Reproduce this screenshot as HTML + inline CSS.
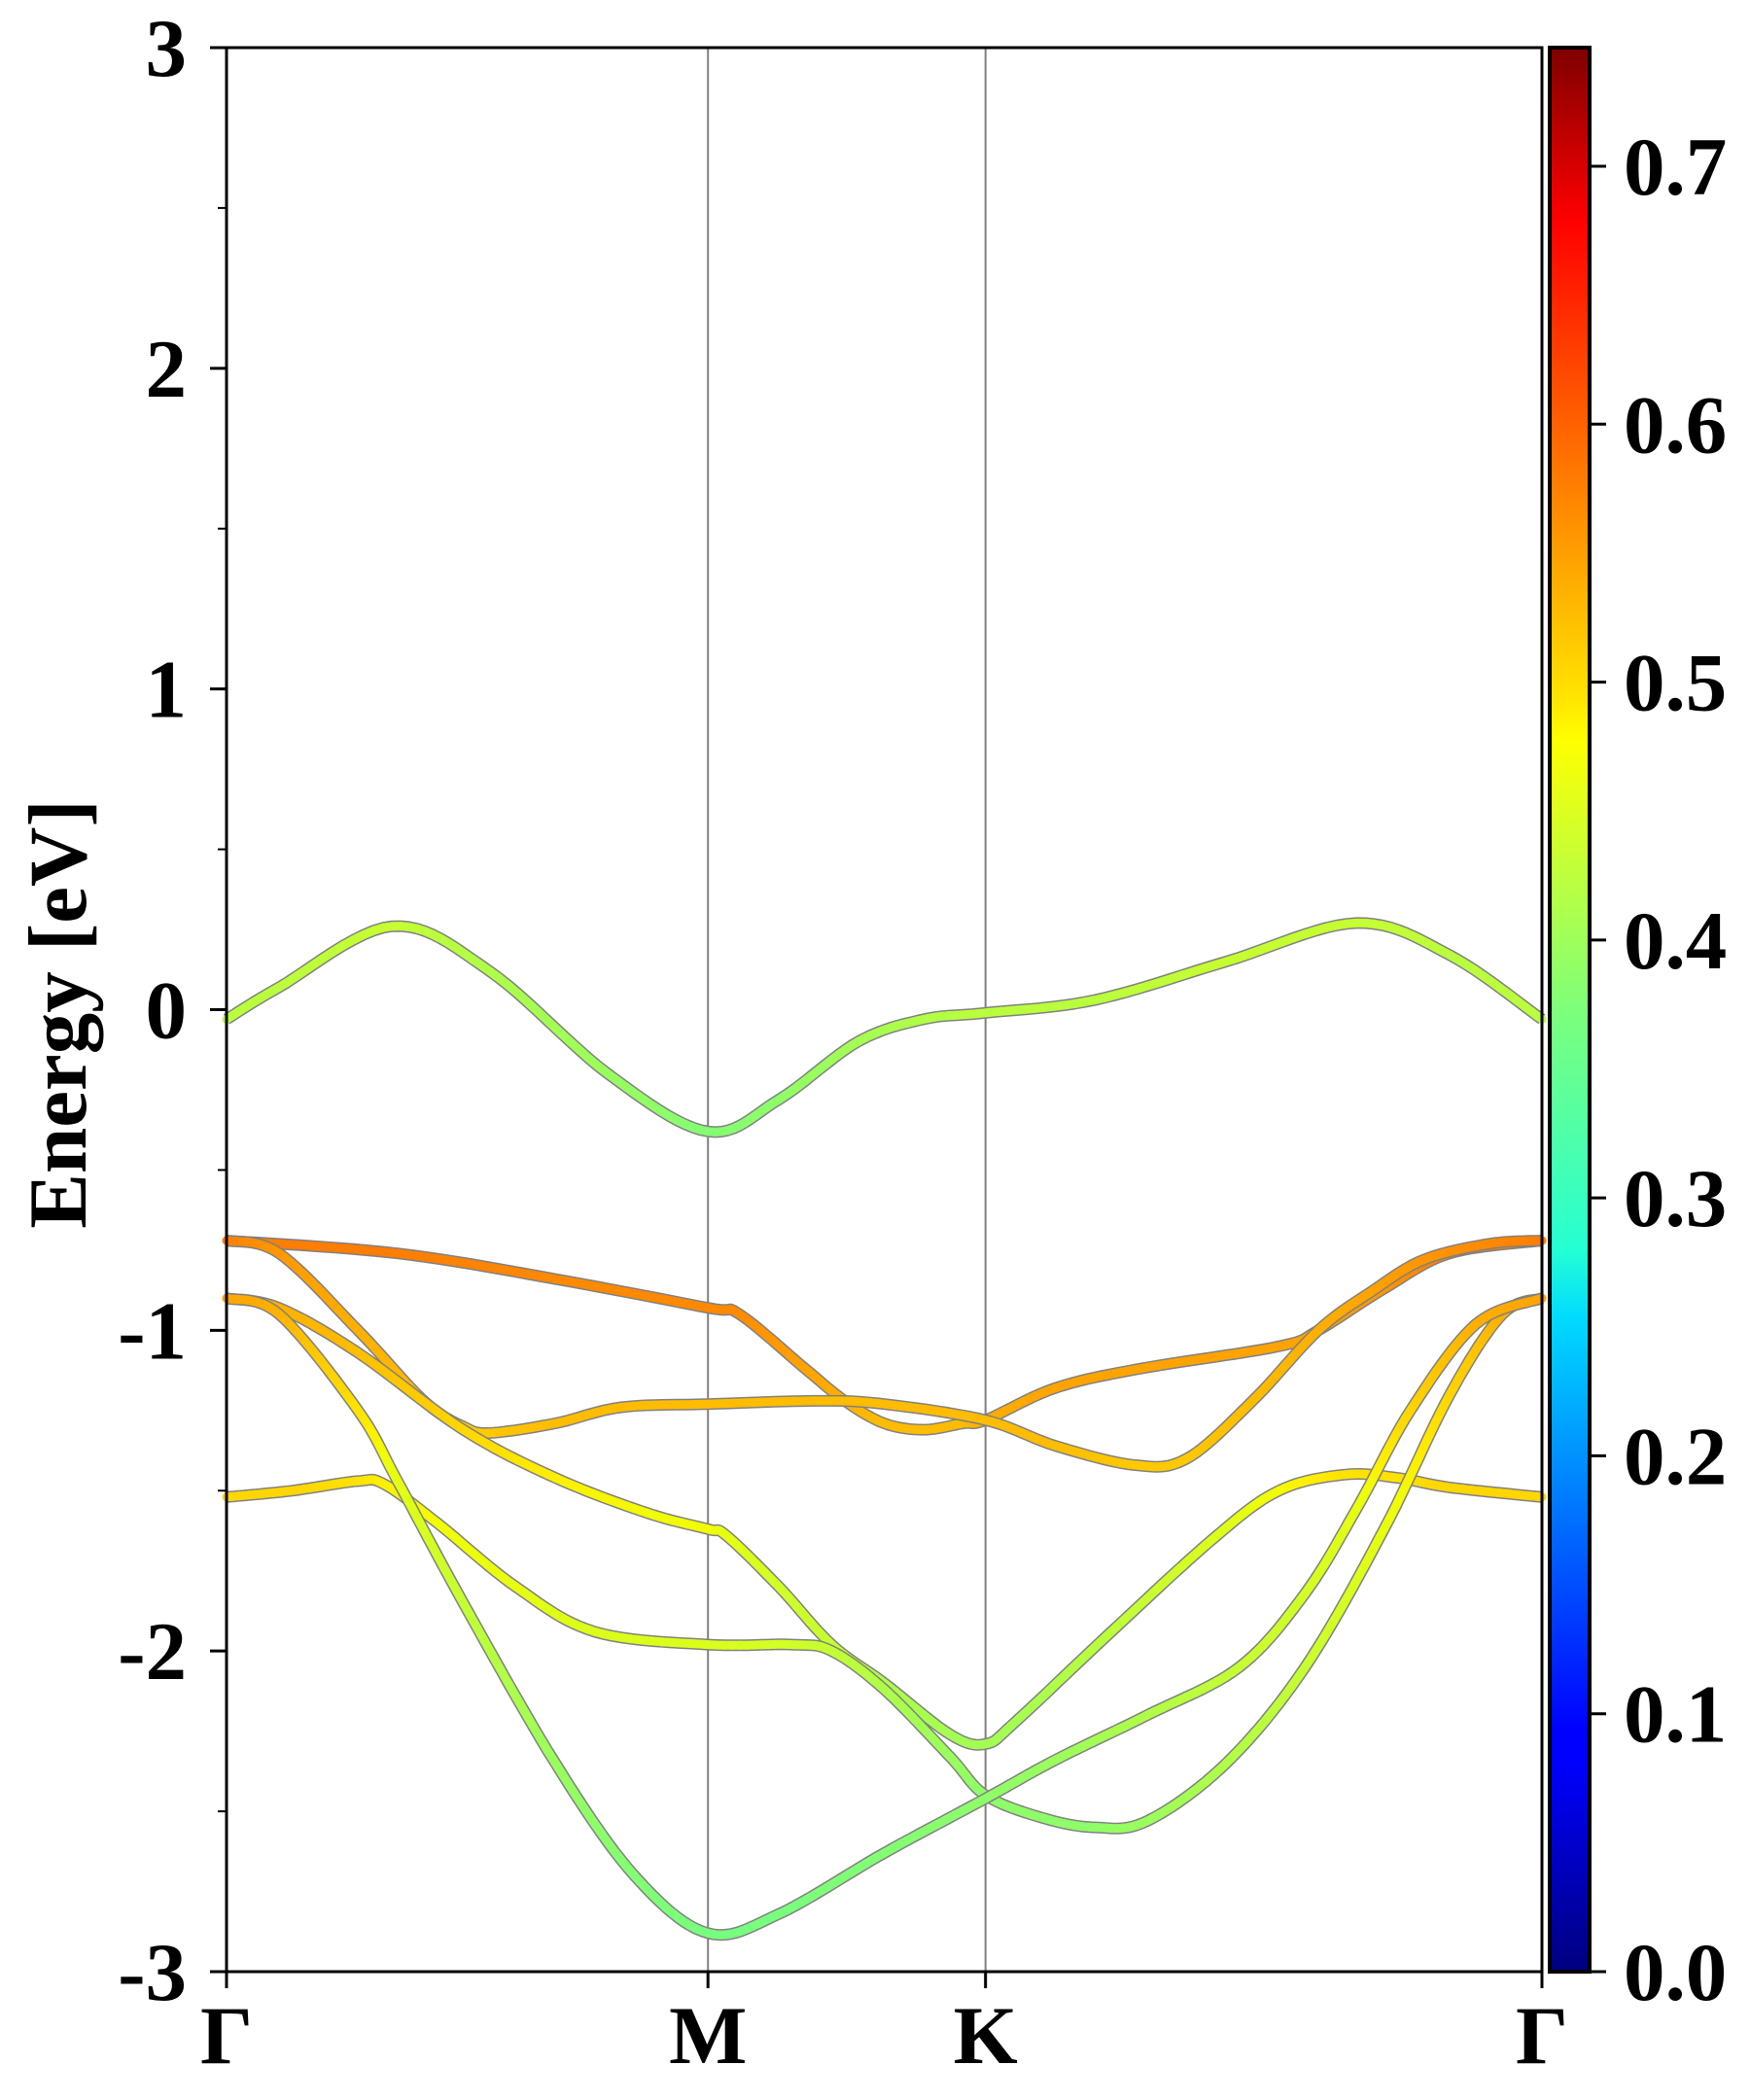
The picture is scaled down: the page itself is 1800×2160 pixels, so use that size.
<!DOCTYPE html>
<html><head><meta charset="utf-8"><style>
html,body{margin:0;padding:0;background:#fff;}
svg{display:block;}
text{font-family:"Liberation Serif","Times New Roman",serif;font-weight:bold;fill:#000;}
</style></head><body>
<svg id="chart" width="1800" height="2160" viewBox="0 0 1800 2160" xmlns="http://www.w3.org/2000/svg">
<defs>
<linearGradient id="jet" x1="0" y1="1" x2="0" y2="0">
<stop offset="0" stop-color="#00007f"/><stop offset="0.11" stop-color="#0000ff"/><stop offset="0.125" stop-color="#0000ff"/><stop offset="0.34" stop-color="#00dbff"/><stop offset="0.375" stop-color="#24ffd3"/><stop offset="0.5" stop-color="#7dff7a"/><stop offset="0.64" stop-color="#ffff00"/><stop offset="0.66" stop-color="#ffe600"/><stop offset="0.89" stop-color="#ff1200"/><stop offset="0.91" stop-color="#ff0000"/><stop offset="1" stop-color="#7f0000"/>
</linearGradient>
</defs>
<g id="bands"></g>
<g id="axes"></g>
</svg>
<script>
const kLabels = ["Γ","M","K","Γ"];
const kPos = [0, 0.366, 0.577, 1];
const yTicks = [-3,-2,-1,0,1,2,3];
const cbTicks = [0.0,0.1,0.2,0.3,0.4,0.5,0.6,0.7];
const cbMax = 0.746;
const band1K = [0,0.04,0.126,0.2,0.29,0.366,0.42,0.48,0.53,0.577,0.66,0.76,0.859,0.93,1];
const band1E = [-0.03,0.07,0.26,0.12,-0.2,-0.38,-0.28,-0.1,-0.03,-0.01,0.03,0.15,0.27,0.17,-0.03];
const band1V = [0.43,0.43,0.44,0.42,0.4,0.38,0.39,0.41,0.42,0.43,0.43,0.44,0.44,0.43,0.43];
const band2K = [0,0.13,0.25,0.366,0.39,0.44,0.47,0.5,0.53,0.56,0.577,0.63,0.694,0.8,0.83,0.88,0.93,1];
const band2E = [-0.72,-0.76,-0.84,-0.93,-0.95,-1.12,-1.22,-1.29,-1.31,-1.29,-1.28,-1.18,-1.12,-1.05,-1.0,-0.87,-0.76,-0.72];
const band2V = [0.58,0.58,0.57,0.57,0.57,0.55,0.54,0.53,0.53,0.53,0.54,0.55,0.55,0.55,0.55,0.56,0.58,0.58];
const band3K = [0,0.04,0.1,0.15,0.18,0.2,0.25,0.3,0.366,0.45,0.5,0.577,0.63,0.69,0.73,0.78,0.83,0.87,0.91,0.96,1];
const band3E = [-0.72,-0.76,-1.0,-1.22,-1.3,-1.32,-1.29,-1.24,-1.23,-1.22,-1.23,-1.28,-1.36,-1.42,-1.4,-1.22,-1.0,-0.88,-0.78,-0.73,-0.72];
const band3V = [0.58,0.56,0.54,0.53,0.52,0.52,0.53,0.53,0.53,0.53,0.53,0.53,0.53,0.52,0.52,0.53,0.54,0.55,0.56,0.57,0.58];
const band4K = [0,0.04,0.1,0.18,0.25,0.32,0.366,0.38,0.42,0.46,0.5,0.55,0.577,0.6,0.67,0.75,0.8,0.85,0.89,0.93,1];
const band4E = [-0.9,-0.93,-1.07,-1.31,-1.46,-1.57,-1.62,-1.64,-1.8,-1.98,-2.1,-2.26,-2.29,-2.22,-1.95,-1.65,-1.5,-1.45,-1.46,-1.49,-1.52];
const band4V = [0.55,0.54,0.53,0.51,0.49,0.48,0.48,0.47,0.45,0.44,0.42,0.41,0.41,0.41,0.43,0.46,0.48,0.5,0.5,0.51,0.51];
const band5K = [0,0.05,0.1,0.12,0.16,0.22,0.28,0.366,0.43,0.46,0.5,0.55,0.577,0.62,0.66,0.7,0.76,0.82,0.88,0.93,0.97,1];
const band5E = [-1.52,-1.5,-1.47,-1.48,-1.6,-1.8,-1.94,-1.98,-1.98,-2.0,-2.12,-2.33,-2.45,-2.52,-2.55,-2.53,-2.35,-2.05,-1.62,-1.2,-0.95,-0.9];
const band5V = [0.51,0.51,0.5,0.49,0.48,0.47,0.46,0.46,0.45,0.44,0.42,0.4,0.39,0.39,0.39,0.4,0.42,0.44,0.47,0.51,0.54,0.55];
const band6K = [0,0.04,0.1,0.13,0.18,0.25,0.31,0.366,0.42,0.5,0.577,0.63,0.7,0.77,0.82,0.86,0.9,0.95,1];
const band6E = [-0.9,-0.95,-1.25,-1.47,-1.85,-2.35,-2.7,-2.88,-2.82,-2.63,-2.46,-2.34,-2.2,-2.05,-1.82,-1.55,-1.25,-0.98,-0.9];
const band6V = [0.55,0.54,0.5,0.47,0.44,0.4,0.38,0.37,0.37,0.38,0.39,0.4,0.42,0.44,0.45,0.47,0.51,0.54,0.55];

const bandsK=[band1K,band2K,band3K,band4K,band5K,band6K];
const bandsE=[band1E,band2E,band3E,band4E,band5E,band6E];
const bandsV=[band1V,band2V,band3V,band4V,band5V,band6V];

const X0=233,X1=1586,Y0=2028,Y1=49;
const NS="http://www.w3.org/2000/svg";
function xs(k){return X0+k*(X1-X0);}
function ys(e){return Y0-(e+3)/6*(Y0-Y1);}
function cbY(v){return Y0-v/cbMax*(Y0-Y1);}
function seg(t,pts){for(let i=0;i<pts.length-1;i++){if(t<=pts[i+1][0]){const f=(t-pts[i][0])/(pts[i+1][0]-pts[i][0]);return pts[i][1]+f*(pts[i+1][1]-pts[i][1]);}}return pts[pts.length-1][1];}
function jet(t){
  t=Math.max(0,Math.min(1,t));
  const r=seg(t,[[0,0],[0.35,0],[0.66,1],[0.89,1],[1,0.5]]);
  const g=seg(t,[[0,0],[0.125,0],[0.375,1],[0.64,1],[0.91,0],[1,0]]);
  const b=seg(t,[[0,0.5],[0.11,1],[0.34,1],[0.65,0],[1,0]]);
  return "rgb("+Math.round(r*255)+","+Math.round(g*255)+","+Math.round(b*255)+")";
}
function mk(tag,attrs,parent){const e=document.createElementNS(NS,tag);for(const a in attrs)e.setAttribute(a,attrs[a]);parent.appendChild(e);return e;}
function cr(p0,p1,p2,p3,t){const t2=t*t,t3=t2*t;return 0.5*((2*p1)+(-p0+p2)*t+(2*p0-5*p1+4*p2-p3)*t2+(-p0+3*p1-3*p2+p3)*t3);}

const gB=document.getElementById('bands');
const gA=document.getElementById('axes');
const FF='"Liberation Serif","Times New Roman",serif';

for(let i=1;i<kPos.length-1;i++){
  const l=mk('line',{x1:xs(kPos[i]),x2:xs(kPos[i]),y1:Y1,y2:Y0,stroke:'#808080','stroke-width':2},gB);
  
  
}

for(let b=0;b<bandsK.length;b++){
  const K=bandsK[b],E=bandsE[b],V=bandsV[b];
  const pts=[];
  const n=K.length;
  for(let i=0;i<n-1;i++){
    const i0=Math.max(0,i-1),i3=Math.min(n-1,i+2);
    const steps=12;
    for(let s=0;s<steps;s++){
      const t=s/steps;
      pts.push([xs(cr(K[i0],K[i],K[i+1],K[i3],t)),ys(cr(E[i0],E[i],E[i+1],E[i3],t)),V[i]+(V[i+1]-V[i])*t]);
    }
  }
  pts.push([xs(K[n-1]),ys(E[n-1]),V[n-1]]);
  const g=mk('g',{},gB);
  
  
  const d=pts.map((p,i)=>(i?'L':'M')+p[0].toFixed(1)+' '+p[1].toFixed(1)).join(' ');
  mk('path',{d:d,fill:'none',stroke:'#808080','stroke-width':12,'stroke-linejoin':'round'},g);
  for(let i=0;i<pts.length-1;i++){
    mk('line',{x1:pts[i][0].toFixed(1),y1:pts[i][1].toFixed(1),x2:pts[i+1][0].toFixed(1),y2:pts[i+1][1].toFixed(1),stroke:jet((pts[i][2]+pts[i+1][2])/2/cbMax),'stroke-width':9,'stroke-linecap':'round'},g);
  }
}

const fr=mk('rect',{x:X0,y:Y1,width:X1-X0,height:Y0-Y1,fill:'none',stroke:'#000','stroke-width':3},gA);


for(const v of yTicks){
  const y=ys(v);
  mk('line',{x1:X0-17,x2:X0,y1:y,y2:y,stroke:'#000','stroke-width':3},gA);
  const t=mk('text',{x:192,y:y+29,'text-anchor':'end','font-size':85,'font-family':FF,'font-weight':'bold'},gA);
  t.textContent=String(v);
  
  
}
for(let v=-2.5;v<3;v+=1){
  const y=ys(v);
  mk('line',{x1:X0-9,x2:X0,y1:y,y2:y,stroke:'#000','stroke-width':2},gA);
}
for(let i=0;i<kPos.length;i++){
  const x=xs(kPos[i]);
  mk('line',{x1:x,x2:x,y1:Y0,y2:Y0+17,stroke:'#000','stroke-width':3},gA);
  const t=mk('text',{x:x,y:2122,'text-anchor':'middle','font-size':85,'font-family':FF,'font-weight':'bold'},gA);
  t.textContent=kLabels[i];
  
  
}
const yl=mk('text',{x:0,y:0,'text-anchor':'middle','font-size':85,'font-family':FF,'font-weight':'bold',transform:'translate(88,1043) rotate(-90)'},gA);
yl.textContent='Energy [eV]';



const cb=mk('rect',{x:1594,y:Y1,width:41,height:Y0-Y1,fill:'url(#jet)',stroke:'#000','stroke-width':4},gA);


for(const v of cbTicks){
  const y=cbY(v);
  mk('line',{x1:1635,x2:1652,y1:y,y2:y,stroke:'#000','stroke-width':3},gA);
  const t=mk('text',{x:1670,y:y+29,'font-size':85,'font-family':FF,'font-weight':'bold'},gA);
  t.textContent=v.toFixed(1);
  
  
}
</script>
</body></html>
